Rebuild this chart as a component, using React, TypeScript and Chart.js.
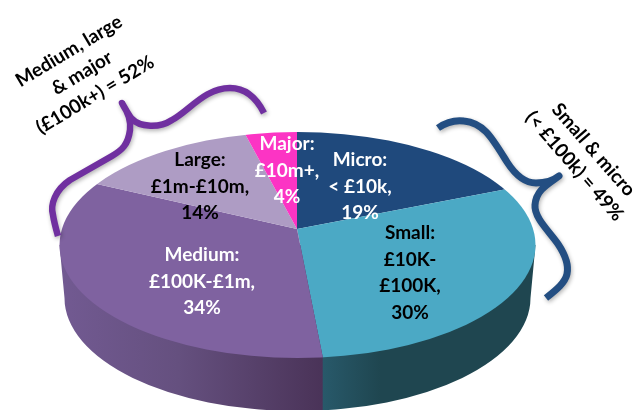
import React, { useEffect, useRef } from "react";
import { Chart, registerables } from "chart.js";

Chart.register(...registerables);

const categories = ["Micro", "Small", "Medium", "Large", "Major"];
const shares = [19, 30, 34, 14, 4];
const sliceColors = ["#1F497C", "#4BA9C5", "#7F62A0", "#AE9CC4", "#FC34C4"];
const labelLines = [
  ["Micro:", "< £10k,", "19%"],
  ["Small:", "£10K-", "£100K,", "30%"],
  ["Medium:", "£100K-£1m,", "34%"],
  ["Large:", "£1m-£10m,", "14%"],
  ["Major:", "£10m+,", "4%"],
];
const labelColors = ["#FFFFFF", "#000000", "#FFFFFF", "#000000", "#FFFFFF"];
const labelCentreX = [360, 410, 202, 200, 287];
const labelFirstY = [160, 233, 255, 160, 144];
const groupLeft = ["Medium, large", "& major", "(£100k+) = 52%"];
const groupRight = ["Small & micro", "(< £100k) = 49%"];

const FONT = 'bold 19px Lato, "Open Sans", sans-serif';
const APEX = { x: 297, y: 229 };
const SQUASH = 0.465;
const TOP = { x: 297.5, y: 245, a: 238, b: 113 };
const BASE = { x: 297.5, y: 298, a: 233, b: 113 };

function rayHitsRim(angle: number) {
  const dx = Math.cos(angle);
  const dy = Math.sin(angle) * SQUASH;
  const ox = APEX.x - TOP.x;
  const oy = APEX.y - TOP.y;
  const A = (dx * dx) / (TOP.a * TOP.a) + (dy * dy) / (TOP.b * TOP.b);
  const B = 2 * ((ox * dx) / (TOP.a * TOP.a) + (oy * dy) / (TOP.b * TOP.b));
  const C = (ox * ox) / (TOP.a * TOP.a) + (oy * oy) / (TOP.b * TOP.b) - 1;
  const t = (-B + Math.sqrt(B * B - 4 * A * C)) / (2 * A);
  return APEX.x + dx * t;
}

const pie3d = {
  id: "pie3d",
  beforeDatasetsDraw(chart: any) {
    const ctx: CanvasRenderingContext2D = chart.ctx;
    const arcs = chart.getDatasetMeta(0).data;
    const splitX = rayHitsRim(arcs[2].startAngle);
    const g = ctx.createLinearGradient(TOP.x - TOP.a, 0, TOP.x + TOP.a, 0);
    const w = TOP.a * 2;
    const s = (splitX - (TOP.x - TOP.a)) / w;
    g.addColorStop(0, "#725A92");
    g.addColorStop(s * 0.45, "#65507F");
    g.addColorStop(s - 0.001, "#4A3358");
    g.addColorStop(s, "#28596A");
    g.addColorStop(Math.min(1, s + 0.12), "#1F4650");
    g.addColorStop(1, "#1F4650");
    ctx.save();
    ctx.fillStyle = g;
    ctx.beginPath();
    ctx.moveTo(TOP.x - TOP.a, TOP.y);
    ctx.lineTo(BASE.x - BASE.a, BASE.y);
    ctx.ellipse(BASE.x, BASE.y, BASE.a, BASE.b, 0, Math.PI, 0, true);
    ctx.lineTo(TOP.x + TOP.a, TOP.y);
    ctx.closePath();
    ctx.fill();
    ctx.restore();

    ctx.save();
    ctx.beginPath();
    ctx.ellipse(TOP.x, TOP.y, TOP.a, TOP.b, 0, 0, Math.PI * 2);
    ctx.clip();
    ctx.translate(APEX.x, APEX.y);
    ctx.scale(1, SQUASH);
    ctx.translate(-APEX.x, -APEX.y);
  },
  afterDatasetsDraw(chart: any) {
    const ctx: CanvasRenderingContext2D = chart.ctx;
    ctx.restore();

    ctx.save();
    ctx.font = FONT;
    ctx.textAlign = "center";
    ctx.textBaseline = "middle";
    labelLines.forEach((lines, i) => {
      ctx.fillStyle = labelColors[i];
      lines.forEach((line, j) => {
        ctx.fillText(line, labelCentreX[i], labelFirstY[i] + j * 26.5);
      });
    });
    ctx.fillStyle = "#000000";
    ctx.save();
    ctx.translate(82, 73);
    ctx.rotate((-31 * Math.PI) / 180);
    groupLeft.forEach((line, j) => ctx.fillText(line, 0, (j - 1) * 25.5));
    ctx.restore();
    ctx.save();
    ctx.translate(584, 158);
    ctx.rotate((49 * Math.PI) / 180);
    groupRight.forEach((line, j) => ctx.fillText(line, 0, (j - 0.5) * 25));
    ctx.restore();

    ctx.shadowColor = "rgba(0,0,0,0.3)";
    ctx.shadowBlur = 4;
    ctx.shadowOffsetX = 1;
    ctx.shadowOffsetY = 2;
    ctx.lineWidth = 6.5;
    ctx.lineJoin = "round";
    ctx.strokeStyle = "#7030A0";
    ctx.stroke(
      new Path2D(
        "M264 113 C256 97 244 88 230 88 C205 88 190 110 172 120 C160 128 140 128 131 118 C127 112 124 107 122 103 C128 112 131 122 130 130 C128 145 122 150 112 156 L70 180 C55 190 50 205 53 215 C54 222 56 229 58 236"
      )
    );
    ctx.lineWidth = 7;
    ctx.strokeStyle = "#234E82";
    ctx.stroke(
      new Path2D(
        "M438 128 C448 121 456 120 464 121 C484 123 492 138 507 162 C516 176 526 183 536 183 C546 183 554 180 559 176 C548 184 536 190 535 205 C534 218 550 232 558 244 C566 256 569 265 567 274 C565 283 556 290 546 298"
      )
    );
    ctx.restore();
  },
};

export default function App() {
  const ref = useRef<HTMLCanvasElement>(null);
  useEffect(() => {
    const chart = new Chart(ref.current!, {
      type: "pie",
      data: {
        labels: categories,
        datasets: [
          {
            data: shares,
            backgroundColor: sliceColors,
            borderWidth: 0,
            radius: 330,
          },
        ],
      },
      options: {
        responsive: false,
        animation: false,
        events: [],
        layout: { padding: { left: 0, right: 42, top: 48, bottom: 0 } },
        plugins: { legend: { display: false }, tooltip: { enabled: false } },
      },
      plugins: [pie3d],
    } as any);
    return () => chart.destroy();
  }, []);
  return (
    <canvas
      ref={ref}
      width={636}
      height={410}
      style={{ position: "absolute", left: 0, top: 0, width: 636, height: 410 }}
    />
  );
}
